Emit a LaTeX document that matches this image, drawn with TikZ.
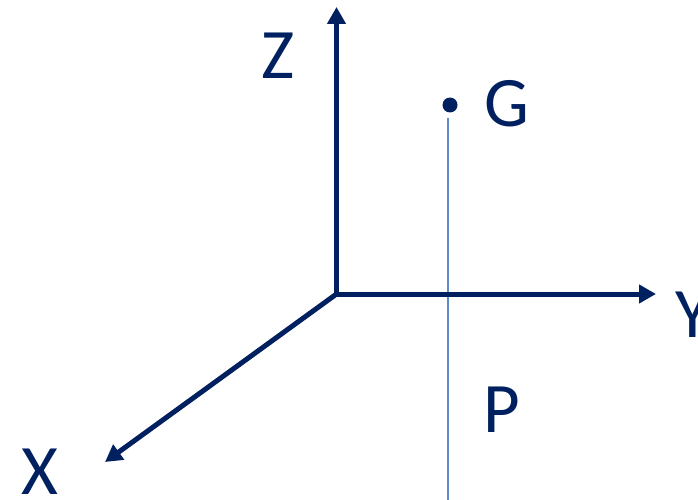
\documentclass[tikz,border=0pt]{standalone}
\usepackage{fontspec}
\setmainfont{Carlito}
\usetikzlibrary{arrows.meta}
\definecolor{navy}{HTML}{002060}
\definecolor{lightline}{HTML}{5B8BCB}
\begin{document}
\begin{tikzpicture}[x=1pt,y=-1pt,
  axis/.style={draw=navy,line width=5pt,-{Triangle[length=17pt,width=18pt]}},
  lbl/.style={inner sep=0pt,anchor=base west,text=navy,font=\fontsize{71}{80}\selectfont}]
\useasboundingbox (0,0) rectangle (698,500);
\clip (0,0) rectangle (698,500);
\coordinate (O) at (336.5,294);
\coordinate (Zt) at (336.5,7);
\coordinate (Yt) at (656,294);
\coordinate (Xt) at (105,462);
\coordinate (Pb) at (448,502);
\node[circle,fill=navy,inner sep=0pt,minimum size=15pt] (G) at (450,105) {};
\coordinate (Gt) at (448,118);
\draw[lightline,line width=2.2pt] (Gt) -- (Pb);
\draw[axis] (O) -- (Zt);
\draw[axis] (O) -- (Yt);
\draw[axis] (O) -- (Xt);
\draw[navy,line width=5pt,line cap=rect] (O) -- ++(0,-2);
\node[lbl] (Zl) at (261,79) {Z};
\node[lbl] (Gl) at (484,126) {G};
\node[lbl] (Yl) at (675,337) {Y};
\node[lbl] (Pl) at (483,432) {P};
\node[lbl] (Xl) at (21,494) {X};
\end{tikzpicture}
\end{document}
